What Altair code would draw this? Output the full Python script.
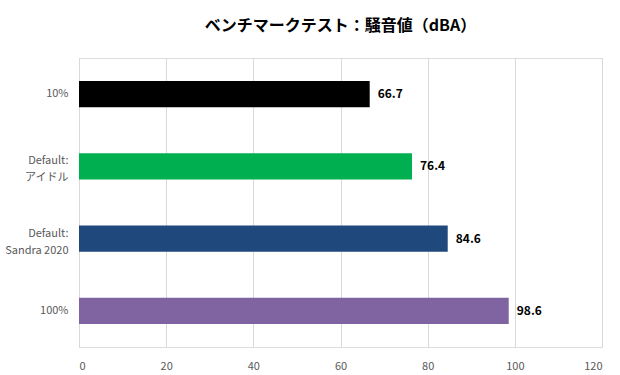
import altair as alt
import pandas as pd

categories = ["10%", "Default:\nアイドル", "Default:\nSandra 2020", "100%"]
values = [66.7, 76.4, 84.6, 98.6]
colors = ["#000000", "#00B050", "#1F497D", "#8064A2"]
x_ticks = [0, 20, 40, 60, 80, 100, 120]

df = pd.DataFrame({"cat": categories, "val": values, "col": colors})
df["label"] = df["val"].map(lambda v: f"{v:.1f}")

FONT = "Noto Sans CJK JP"

base = alt.Chart(df).encode(
    y=alt.Y("cat:N", sort=categories, title=None,
            scale=alt.Scale(paddingInner=0.64, paddingOuter=0.32),
            axis=alt.Axis(labelExpr="split(datum.label, '\\n')", labelColor="#595959",
                          labelFontSize=11, labelFont=FONT, ticks=False,
                          labelLineHeight=17,
                          labelOffset={"condition": {"test": "indexof(datum.label, '\\n') >= 0", "value": -5}, "value": 0},
                          domainColor="#D9D9D9", labelPadding=11, labelAlign="right")),
)

bars = base.mark_bar().encode(
    x=alt.X("val:Q", title=None,
            scale=alt.Scale(domain=[0, 120], nice=False),
            axis=alt.Axis(values=x_ticks, grid=True, gridColor="#D9D9D9", domain=False,
                          ticks=False, labelColor="#595959", labelFontSize=11,
                          labelFont=FONT, labelPadding=13)),
    color=alt.Color("col:N", scale=None),
)

text = base.mark_text(align="left", dx=8, fontWeight="bold", fontSize=12,
                      font=FONT, color="#000000").encode(
    x="val:Q", text="label:N"
)

chart = (bars + text).properties(
    width=523, height=289,
    title=alt.TitleParams("ベンチマークテスト：騒音値（dBA）", font=FONT, fontSize=16,
                          fontWeight="bold", color="#000000", anchor="middle", offset=24),
    autosize=alt.AutoSizeParams(type="none"),
    padding={"left": 79, "top": 58, "right": 18, "bottom": 28},
).configure_view(stroke=None).configure(background="white")

chart.save("out.html", embed_options={"renderer": "svg", "actions": False})
